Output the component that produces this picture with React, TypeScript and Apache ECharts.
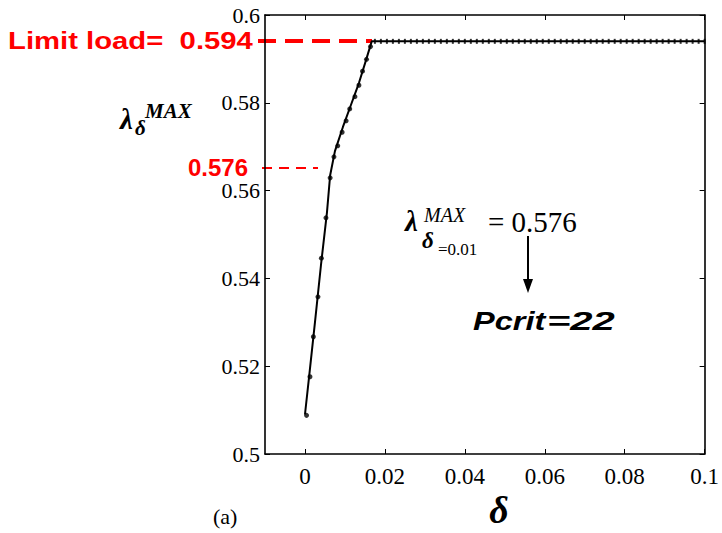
import React, { useEffect, useRef } from "react";
import * as echarts from "echarts";

const xTicks = [0, 0.02, 0.04, 0.06, 0.08, 0.1];
const limitLoad = 0.594;

// solid curve (delta, lambda)
const lineDelta = [0, 0.0012, 0.0025, 0.004, 0.0055, 0.0063, 0.0075, 0.0095, 0.0115, 0.0135, 0.0152, 0.0167, 0.1];
const lineLambda = [0.509, 0.519, 0.53, 0.543, 0.555, 0.5635, 0.569, 0.5745, 0.5795, 0.5845, 0.5895, 0.594, 0.594];

// markers along the rising branch
const dotDelta = [0.0004, 0.00125, 0.0021, 0.00325, 0.0041, 0.00525, 0.0063, 0.00725, 0.0082, 0.0093, 0.0103, 0.0112, 0.0125, 0.0135, 0.0144, 0.0154, 0.0164];
const dotLambda = [0.5088, 0.5176, 0.5267, 0.5358, 0.5446, 0.5538, 0.5629, 0.5677, 0.5702, 0.5733, 0.5759, 0.5786, 0.5814, 0.584, 0.5872, 0.5899, 0.5928];

// markers on the plateau (all at the limit load)
const plateauDelta = [0.0175, 0.019, 0.0205, 0.022, 0.0235, 0.025, 0.0265, 0.028, 0.0295, 0.031, 0.0325, 0.034, 0.0355, 0.037, 0.0385, 0.04, 0.0415, 0.043, 0.0445, 0.046, 0.0475, 0.049, 0.0505, 0.052, 0.0535, 0.055, 0.0565, 0.058, 0.0595, 0.061, 0.0625, 0.064, 0.0655, 0.067, 0.0685, 0.07, 0.0715, 0.073, 0.0745, 0.076, 0.0775, 0.079, 0.0805, 0.082, 0.0835, 0.085, 0.0865, 0.088, 0.0895, 0.091, 0.0925, 0.094, 0.0955, 0.097, 0.0985, 0.1];

const serif = "Liberation Serif";
const sans = "Liberation Sans";
const fmt = (v: number) => String(+Number(v).toFixed(2));

export default function App() {
  const ref = useRef<HTMLDivElement>(null);
  useEffect(() => {
    if (!ref.current) return;
    const chart = echarts.init(ref.current, undefined, { renderer: "svg" });
    const axisLine = { show: true, onZero: false, lineStyle: { color: "#000", width: 1.6 } };
    const tick = { show: true, inside: true, length: 5, lineStyle: { color: "#000", width: 1 } };
    const labelStyle = { color: "#000", fontFamily: serif, fontSize: 22 };
    const option: any = {
      animation: false,
      grid: { left: 265, right: 17, top: 15, bottom: 79, containLabel: false },
      xAxis: [
        {
          type: "value", min: -0.01, max: 0.1, position: "bottom",
          axisLine, splitLine: { show: false },
          axisTick: { ...tick, customValues: xTicks },
          axisLabel: { ...labelStyle, fontSize: 23, margin: 11, customValues: xTicks, formatter: fmt },
        },
        {
          type: "value", min: -0.01, max: 0.1, position: "top",
          axisLine, splitLine: { show: false },
          axisTick: { ...tick, customValues: xTicks },
          axisLabel: { show: false },
        },
      ],
      yAxis: [
        {
          type: "value", min: 0.5, max: 0.6, interval: 0.02, position: "left",
          axisLine, splitLine: { show: false }, axisTick: tick,
          axisLabel: { ...labelStyle, margin: 5, formatter: fmt },
        },
        {
          type: "value", min: 0.5, max: 0.6, interval: 0.02, position: "right",
          axisLine, splitLine: { show: false }, axisTick: tick,
          axisLabel: { show: false },
        },
      ],
      series: [
        {
          type: "line",
          data: lineDelta.map((d, i) => [d, lineLambda[i]]),
          showSymbol: false,
          lineStyle: { color: "#000", width: 2 },
          z: 3,
        },
        {
          type: "scatter",
          data: dotDelta.map((d, i) => [d, dotLambda[i]]),
          symbol: "circle", symbolSize: 5,
          itemStyle: { color: "#000" },
          z: 4,
        },
        {
          type: "scatter",
          data: plateauDelta.map((d) => [d, limitLoad]),
          symbol: "rect", symbolSize: [2, 5],
          itemStyle: { color: "#000" },
          z: 4,
        },
      ],
      graphic: [
        { type: "text", x: 8, y: 41, scaleX: 1.22, style: { text: "Limit load=  0.594", fill: "#ff0000", font: `bold 24px ${sans}`, verticalAlign: "middle", textAlign: "left" } },
        { type: "line", shape: { x1: 258, y1: 41, x2: 372, y2: 41 }, style: { stroke: "#ff0000", lineWidth: 4, lineDash: [18, 9] } },
        { type: "text", x: 248, y: 167, style: { text: "0.576", fill: "#ff0000", font: `bold 24px ${sans}`, verticalAlign: "middle", textAlign: "right" } },
        { type: "line", shape: { x1: 262, y1: 168, x2: 318, y2: 168 }, style: { stroke: "#ff0000", lineWidth: 2, lineDash: [10, 7] } },
        // y-axis title
        { type: "text", x: 120, y: 119, style: { text: "λ", fill: "#000", font: `italic bold 29px ${serif}`, verticalAlign: "middle" } },
        { type: "text", x: 145, y: 111, style: { text: "MAX", fill: "#000", font: `italic bold 21px ${serif}`, verticalAlign: "middle" } },
        { type: "text", x: 135, y: 128, style: { text: "δ", fill: "#000", font: `italic bold 21px ${serif}`, verticalAlign: "middle" } },
        // x-axis title
        { type: "text", x: 499, y: 510, style: { text: "δ", fill: "#000", font: `italic bold 38px ${serif}`, verticalAlign: "middle", textAlign: "center" } },
        { type: "text", x: 213, y: 516, style: { text: "(a)", fill: "#000", font: `22px ${serif}`, verticalAlign: "middle" } },
        // annotation
        { type: "text", x: 405, y: 221, style: { text: "λ", fill: "#000", font: `italic bold 29px ${serif}`, verticalAlign: "middle" } },
        { type: "text", x: 424, y: 215, style: { text: "MAX", fill: "#000", font: `italic 20px ${serif}`, verticalAlign: "middle" } },
        { type: "text", x: 422, y: 240, style: { text: "δ", fill: "#000", font: `italic bold 23px ${serif}`, verticalAlign: "middle" } },
        { type: "text", x: 438, y: 249, style: { text: "=0.01", fill: "#000", font: `17px ${serif}`, verticalAlign: "middle" } },
        { type: "text", x: 488, y: 222, style: { text: "= 0.576", fill: "#000", font: `29px ${serif}`, verticalAlign: "middle" } },
        { type: "line", shape: { x1: 528, y1: 236, x2: 528, y2: 282 }, style: { stroke: "#000", lineWidth: 2 } },
        { type: "polygon", shape: { points: [[523, 279], [533, 279], [528, 293]] }, style: { fill: "#000" } },
        { type: "text", x: 473, y: 321, scaleX: 1.3, style: { text: "Pcrit", fill: "#000", font: `italic bold 25px ${sans}`, verticalAlign: "middle" } },
        { type: "text", x: 547, y: 321, scaleX: 1.6, style: { text: "=22", fill: "#000", font: `italic bold 25px ${sans}`, verticalAlign: "middle" } },
      ],
    };
    chart.setOption(option);
    return () => chart.dispose();
  }, []);
  return <div ref={ref} style={{ width: 722, height: 533, position: "absolute", left: 0, top: 0, background: "#fff" }} />;
}
